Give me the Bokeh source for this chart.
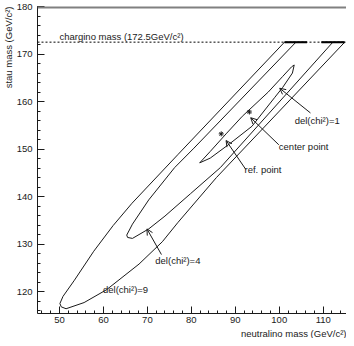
from bokeh.plotting import figure
from bokeh.models import Range1d, FixedTicker, Label, Arrow, OpenHead, Span, Title
from bokeh.embed import file_html
from bokeh.resources import INLINE

# ---- data ----
x_ticks = [50, 60, 70, 80, 90, 100, 110]
x_minor = list(range(46, 116, 2))
y_ticks = [120, 130, 140, 150, 160, 170, 180]
y_minor = list(range(116, 181, 2))
chargino_mass = 172.5

# del(chi2)=9 contour (open at chargino limit)
c9_x = [106.3, 101.2, 76.9, 66.5, 62.2, 57.8, 53.4, 50.8, 50.1, 50.4, 51.5, 55.6, 60.7, 68.1, 73.4, 76.9, 85.7, 114.9, 109.6]
c9_y = [172.5, 172.5, 148.8, 138.6, 133.9, 128.5, 122.4, 119.0, 117.5, 116.8, 116.4, 117.7, 120.4, 125.8, 130.5, 134.5, 144.0, 172.5, 172.5]
# del(chi2)=4 contour
c4_x = [103.8, 80.6, 76.2, 70.3, 66.6, 65.3, 65.5, 66.6, 70.3, 74.0, 79.8, 86.6, 112.2]
c4_y = [172.5, 150.2, 146.1, 139.3, 134.2, 131.9, 131.4, 131.2, 133.2, 135.9, 140.6, 146.1, 172.5]
# del(chi2)=1 contour (closed)
c1_x = [81.9, 84.3, 87.9, 91.6, 97.5, 100.8, 102.8, 103.4, 103.0, 100.8, 99.0, 93.8, 88.7, 84.3, 81.9]
c1_y = [147.1, 149.5, 153.2, 156.9, 162.0, 165.3, 167.3, 167.7, 166.0, 163.0, 160.9, 154.8, 151.1, 148.1, 147.1]

center_pt = (93.2, 157.8)
ref_pt = (86.8, 153.2)

labels = ["chargino mass (172.5GeV/c²)", "del(chi²)=1", "center point", "ref. point", "del(chi²)=4", "del(chi²)=9"]
label_x = [50.0, 103.5, 99.9, 92.1, 71.8, 59.9]
label_y = [173.6, 156.0, 150.5, 145.7, 126.6, 120.5]

# arrows: (x_start, y_start, x_end, y_end)
arrows = [(107.1, 157.6, 100.1, 162.8),
          (99.9, 150.9, 93.5, 156.6),
          (92.4, 145.7, 87.9, 151.8),
          (73.2, 127.8, 69.9, 133.2)]

FONT = "Liberation Sans"
FS = "9.5px"
INK = "#1a1a1a"

p = figure(width=346, height=338, x_range=Range1d(45, 115.3), y_range=Range1d(115.4, 180),
           output_backend="svg", toolbar_location=None,
           min_border_left=28, min_border_right=0, min_border_top=6, min_border_bottom=24)
p.grid.visible = False
p.outline_line_color = None
p.background_fill_color = "white"
p.border_fill_color = "white"

for ax in (p.xaxis, p.yaxis):
    ax.axis_line_color = INK
    ax.major_tick_line_color = INK
    ax.minor_tick_line_color = INK
    ax.major_tick_out = 0
    ax.major_tick_in = 7
    ax.minor_tick_out = 0
    ax.minor_tick_in = 3
    ax.major_label_text_font = FONT
    ax.major_label_text_font_size = FS
    ax.major_label_text_color = INK
p.xaxis.ticker = FixedTicker(ticks=x_ticks, minor_ticks=x_minor)
p.yaxis.ticker = FixedTicker(ticks=y_ticks, minor_ticks=y_minor)
p.xaxis.major_label_standoff = 3
p.yaxis.major_label_standoff = 5

p.add_layout(Title(text="neutralino mass (GeV/c²)", align="right", text_font=FONT,
                   text_font_size=FS, text_font_style="normal", text_color=INK, standoff=0), "below")
p.add_layout(Title(text="stau mass (GeV/c²)", align="right", text_font=FONT,
                   text_font_size=FS, text_font_style="normal", text_color=INK, standoff=0), "left")

# top frame line
p.add_layout(Span(location=180, dimension="width", line_color="#808080", line_width=4))
# chargino mass line
p.add_layout(Span(location=chargino_mass, dimension="width", line_color="#000000", line_width=1, line_dash="2 2"))

for xs, ys in ((c9_x, c9_y), (c4_x, c4_y), (c1_x, c1_y)):
    p.line(xs, ys, line_color=INK, line_width=1)

# thick pieces along the chargino limit
p.line(c9_x[:2], c9_y[:2], line_color="#000000", line_width=2)
p.line(c9_x[-2:], c9_y[-2:], line_color="#000000", line_width=2)

p.scatter([center_pt[0], ref_pt[0]], [center_pt[1], ref_pt[1]], marker="asterisk",
          size=5, line_color=INK)

for t, x, y in zip(labels, label_x, label_y):
    p.add_layout(Label(x=x, y=y, text=t, text_font=FONT, text_font_size=FS, text_color=INK,
                       text_baseline="middle", text_align="left"))

for xs, ys, xe, ye in arrows:
    p.add_layout(Arrow(x_start=xs, y_start=ys, x_end=xe, y_end=ye, line_color=INK, line_width=1,
                       end=OpenHead(size=6, line_color=INK, line_width=1)))

open("out.html", "w").write(file_html(p, INLINE))
